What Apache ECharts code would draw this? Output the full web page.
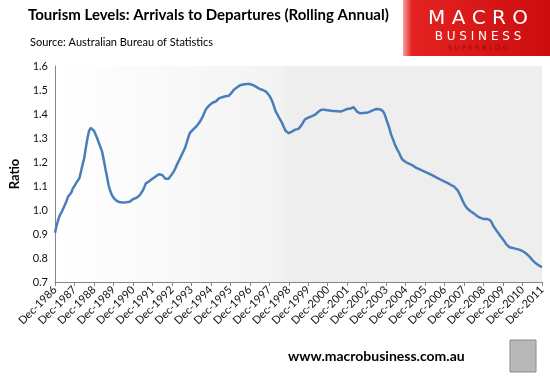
<!DOCTYPE html>
<html><head><meta charset="utf-8">
<script src="https://cdn.jsdelivr.net/npm/echarts@6/dist/echarts.min.js"></script>
<style>html,body{margin:0;padding:0;background:#fff}#c{width:550px;height:379px}</style>
</head><body><div id="c"></div>
<script>
// Monthly categories from Dec-1986 to Dec-2011
const startYear = 1986;
const monthNames = ['Dec','Jan','Feb','Mar','Apr','May','Jun','Jul','Aug','Sep','Oct','Nov'];
const tickLabels = ['Dec-1986','Dec-1987','Dec-1988','Dec-1989','Dec-1990','Dec-1991','Dec-1992','Dec-1993','Dec-1994','Dec-1995','Dec-1996','Dec-1997','Dec-1998','Dec-1999','Dec-2000','Dec-2001','Dec-2002','Dec-2003','Dec-2004','Dec-2005','Dec-2006','Dec-2007','Dec-2008','Dec-2009','Dec-2010','Dec-2011'];
const yTicks = [0.7,0.8,0.9,1.0,1.1,1.2,1.3,1.4,1.5,1.6];

// Ratio of arrivals to departures (rolling annual), monthly, one row per year starting Dec
const ratio = [
0.905,0.935,0.960,0.979,0.990,1.005,1.020,1.035,1.055,1.058,1.072,1.090,
1.100,1.112,1.120,1.132,1.160,1.190,1.215,1.260,1.299,1.330,1.342,1.343,
1.330,1.315,1.299,1.280,1.262,1.243,1.210,1.174,1.140,1.104,1.080,1.063,
1.052,1.044,1.038,1.035,1.032,1.031,1.031,1.031,1.032,1.032,1.034,1.040,
1.045,1.047,1.050,1.055,1.060,1.068,1.080,1.095,1.111,1.115,1.120,1.125,
1.130,1.132,1.140,1.147,1.149,1.148,1.146,1.140,1.130,1.122,1.130,1.140,
1.146,1.158,1.172,1.187,1.201,1.215,1.229,1.243,1.257,1.278,1.300,1.320,
1.327,1.335,1.342,1.348,1.354,1.365,1.377,1.389,1.405,1.420,1.428,1.436,
1.440,1.447,1.451,1.452,1.460,1.465,1.468,1.470,1.472,1.474,1.475,1.476,
1.482,1.490,1.500,1.507,1.510,1.515,1.520,1.521,1.523,1.524,1.525,1.524,
1.525,1.522,1.520,1.516,1.513,1.510,1.505,1.502,1.500,1.496,1.493,1.486,
1.477,1.465,1.450,1.430,1.410,1.398,1.385,1.373,1.361,1.345,1.330,1.322,
1.320,1.323,1.327,1.333,1.335,1.336,1.338,1.345,1.355,1.367,1.378,1.382,
1.385,1.386,1.390,1.393,1.396,1.402,1.408,1.414,1.418,1.421,1.418,1.416,
1.416,1.414,1.414,1.413,1.412,1.413,1.411,1.412,1.410,1.412,1.415,1.418,
1.421,1.420,1.423,1.425,1.428,1.420,1.410,1.404,1.403,1.408,1.404,1.403,
1.405,1.407,1.410,1.412,1.416,1.420,1.421,1.418,1.420,1.416,1.412,1.400,
1.380,1.360,1.340,1.315,1.298,1.280,1.264,1.250,1.238,1.222,1.210,1.204,
1.200,1.196,1.193,1.190,1.187,1.182,1.178,1.175,1.171,1.167,1.165,1.162,
1.159,1.156,1.153,1.150,1.146,1.143,1.139,1.135,1.132,1.128,1.125,1.122,
1.118,1.115,1.112,1.108,1.104,1.100,1.097,1.090,1.082,1.070,1.056,1.040,
1.026,1.015,1.006,1.000,0.995,0.990,0.986,0.980,0.975,0.970,0.967,0.965,
0.963,0.963,0.963,0.962,0.958,0.948,0.934,0.924,0.914,0.905,0.895,0.886,
0.879,0.868,0.857,0.849,0.845,0.843,0.842,0.840,0.838,0.837,0.835,0.833,
0.829,0.825,0.820,0.815,0.808,0.800,0.792,0.785,0.779,0.773,0.769,0.765,
0.762
];

const categories = ratio.map((v, i) => {
  const m = i % 12;
  const y = startYear + Math.floor(i / 12) + (m === 0 ? 0 : 1);
  return m === 0 ? tickLabels[i / 12] : monthNames[m] + '-' + y;
});

const chart = echarts.init(document.getElementById('c'), null, {renderer: 'canvas'});
const FONT = 'Lato, "Open Sans", sans-serif';
chart.setOption({
  animation: false,
  backgroundColor: '#ffffff',
  grid: {
    left: 52, right: 8, top: 66, bottom: 97, show: true, borderWidth: 0,
    backgroundColor: new echarts.graphic.LinearGradient(0, 0, 1, 0, [
      {offset: 0, color: '#ffffff'},
      {offset: 0.46, color: '#f3f3f3'},
      {offset: 0.48, color: '#eeeeee'},
      {offset: 1, color: '#eeeeee'}
    ])
  },
  xAxis: {
    type: 'category', data: categories, boundaryGap: false,
    axisLine: {lineStyle: {color: '#868686', width: 1}},
    axisTick: {show: true, interval: 11, length: 4, lineStyle: {color: '#868686'}},
    axisLabel: {interval: 11, rotate: 45, fontSize: 11, color: '#111', fontFamily: FONT, margin: 6},
    splitLine: {show: false}
  },
  yAxis: {
    type: 'value', min: 0.7, max: 1.6, interval: 0.1,
    name: 'Ratio', nameLocation: 'middle', nameGap: 34, nameRotate: 90,
    nameTextStyle: {fontSize: 13, fontWeight: 'bold', color: '#000', fontFamily: FONT},
    axisLine: {show: true, lineStyle: {color: '#868686', width: 1}},
    axisTick: {show: false},
    splitLine: {show: false},
    axisLabel: {fontSize: 11, color: '#111', fontFamily: FONT, margin: 7,
      formatter: v => { const t = yTicks.find(x => Math.abs(x - v) < 1e-6); return (t !== undefined ? t : v).toFixed(1); }}
  },
  series: [{
    type: 'line', data: ratio, showSymbol: false, symbol: 'none',
    lineStyle: {color: '#4a7ebb', width: 2.5}, smooth: false
  }],
  graphic: [
    {type: 'text', left: 28, top: 8, style: {text: 'Tourism Levels: Arrivals to Departures (Rolling Annual)', font: 'bold 15px ' + FONT, fill: '#000'}},
    {type: 'text', left: 30, top: 37, style: {text: 'Source: Australian Bureau of Statistics', font: '11px ' + FONT, fill: '#000'}},
    {type: 'rect', shape: {x: 403, y: 0, width: 147, height: 56},
      style: {fill: new echarts.graphic.LinearGradient(0, 0, 1, 0, [
        {offset: 0, color: '#f4a0a0'}, {offset: 0.06, color: '#e42222'}, {offset: 1, color: '#cc0d0d'}])}},
    {type: 'text', x: 478, y: 19, style: {text: 'M A C R O', font: '20px "DejaVu Sans", sans-serif', fill: '#ffffff', align: 'center', verticalAlign: 'middle'}},
    {type: 'text', x: 478, y: 37, style: {text: 'B U S I N E S S', font: '12px "DejaVu Sans", sans-serif', fill: '#ffffff', align: 'center', verticalAlign: 'middle'}},
    {type: 'text', x: 478, y: 48, style: {text: 'S U P E R B L O G', font: '7px "DejaVu Sans", sans-serif', fill: '#9a0a0a', align: 'center', verticalAlign: 'middle'}},
    {type: 'text', left: 288, top: 349, style: {text: 'www.macrobusiness.com.au', font: 'bold 14px ' + FONT, fill: '#000'}},
    {type: 'rect', shape: {x: 510, y: 340, width: 26, height: 32}, style: {fill: '#b8b8b8', stroke: '#8a8a8a', lineWidth: 1}}
  ]
});
</script></body></html>
